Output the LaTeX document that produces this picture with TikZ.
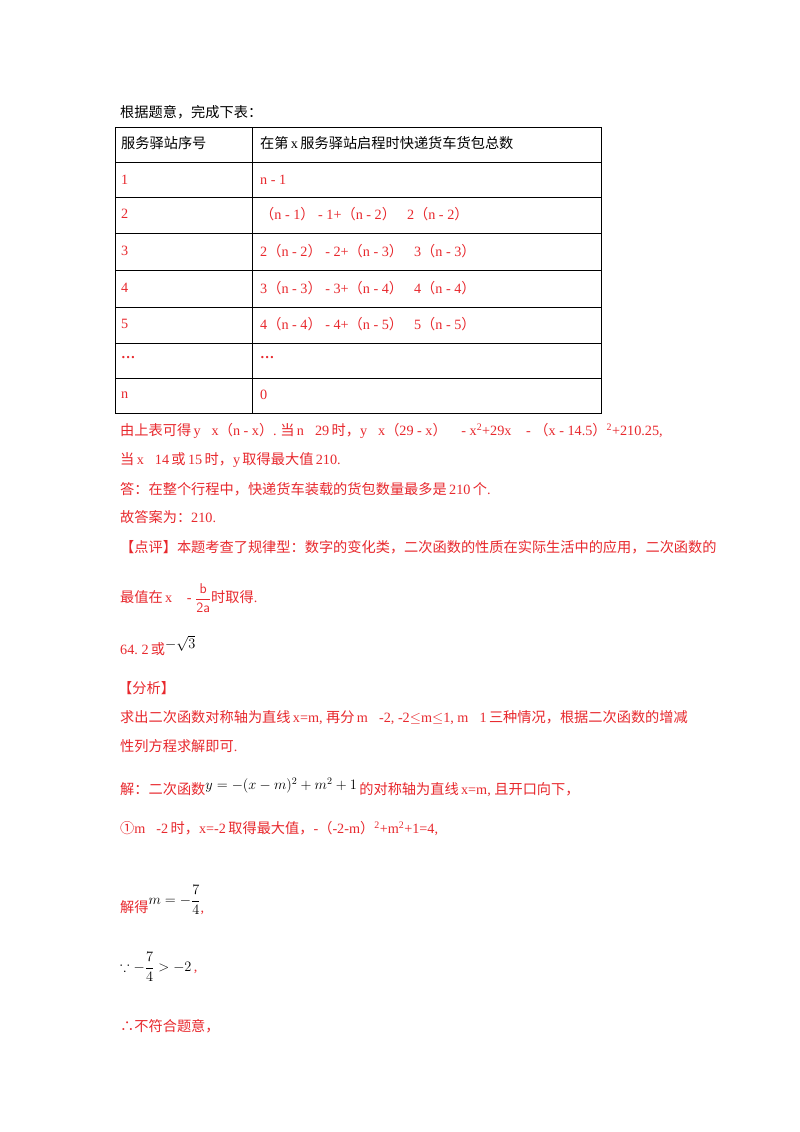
\documentclass[tikz,border=0pt]{standalone}
\usepackage{amsmath,amssymb}
\usepackage{fontspec}
\setmainfont{Liberation Serif}
\newfontfamily\cjk{Noto Sans CJK SC}
\newcommand{\zh}[1]{{\cjk #1}}
\definecolor{ansred}{RGB}{232,40,45}
\begin{document}
\begin{tikzpicture}[x=1pt,y=-1pt,
  txt/.style={anchor=west,inner sep=0pt,font=\fontsize{14.2}{16}\selectfont,text=ansred},
  blk/.style={txt,text=black}]
\useasboundingbox[fill=white] (0,0) rectangle (800,1132);
\node[blk] (t0) at (120,112) {\zh{根据题意，完成下表：}};
% table
\draw[line width=1pt] (115,127) rectangle (601,413);
\foreach \y in {162,197,233,270,307,343,378} \draw[line width=0.8pt] (115,\y) -- (601,\y);
\draw[line width=0.8pt] (252,127) -- (252,413);
\node[blk] (h1) at (121,143) {\zh{服务驿站序号}};
\node[blk] (h2) at (260,143) {\zh{在第}\,x\,\zh{服务驿站启程时快递货车货包总数}};
\node[txt] (a1) at (121,180) {1};
\node[txt] (b1) at (260,180) {n - 1};
\node[txt] (a2) at (121,214) {2};
\node[txt] (b2) at (260,214) {\zh{（}n - 1\zh{）} - 1+\zh{（}n - 2\zh{）}＝2\zh{（}n - 2\zh{）}};
\node[txt] (a3) at (121,251) {3};
\node[txt] (b3) at (260,251) {2\zh{（}n - 2\zh{）} - 2+\zh{（}n - 3\zh{）}＝3\zh{（}n - 3\zh{）}};
\node[txt] (a4) at (121,288) {4};
\node[txt] (b4) at (260,288) {3\zh{（}n - 3\zh{）} - 3+\zh{（}n - 4\zh{）}＝4\zh{（}n - 4\zh{）}};
\node[txt] (a5) at (121,324) {5};
\node[txt] (b5) at (260,324) {4\zh{（}n - 4\zh{）} - 4+\zh{（}n - 5\zh{）}＝5\zh{（}n - 5\zh{）}};
\node[txt] (a6) at (121,358) {\textbf{…}};
\node[txt] (b6) at (260,358) {\textbf{…}};
\node[txt] (a7) at (121,395) {n};
\node[txt] (b7) at (260,395) {0};
% text
\node[txt] (l1) at (120,431) {\zh{由上表可得}\,y＝x\zh{（}n - x\zh{）}.\ \zh{当}\,n＝29\,\zh{时，}y＝x\zh{（}29 - x\zh{）}＝ - x\textsuperscript{2}+29x＝ - \zh{（}x - 14.5\zh{）}\textsuperscript{2}+210.25,};
\node[txt] (l2) at (120,460) {\zh{当}\,x＝14\,\zh{或}\,15\,\zh{时，}y\,\zh{取得最大值}\,210.};
\node[txt] (l3) at (120,489) {\zh{答：在整个行程中，快递货车装载的货包数量最多是}\,210\,\zh{个}.};
\node[txt] (l4) at (120,517) {\zh{故答案为：}210.};
\node[txt] (l5) at (120,547) {\zh{【点评】本题考查了规律型：数字的变化类，二次函数的性质在实际生活中的应用，二次函数的}};
\node[txt] (l6) at (120,598) {\zh{最值在}\,x＝ - $\dfrac{\mathsf{b}}{\mathsf{2a}}$\zh{时取得}.};
\node[txt] (l7) at (120,646) {64.\ 2\,\zh{或}\raisebox{6pt}{\textcolor{black}{$-\sqrt{3}$}}};
\node[txt] (l8) at (118,688) {\zh{【分析】}};
\node[txt] (l9) at (120,718) {\zh{求出二次函数对称轴为直线}\,x=m,\ \zh{再分}\,m＜-2,\ -2$\leq$m$\leq$1,\ m＞1\,\zh{三种情况，根据二次函数的增减}};
\node[txt] (l10) at (120,746) {\zh{性列方程求解即可}.};
\node[txt] (l11) at (120,787) {\zh{解：二次函数}\raisebox{5pt}{\textcolor{black}{$y=-(x-m)^2+m^2+1$}}\,\zh{的对称轴为直线}\,x=m,\ \zh{且开口向下，}};
\node[txt] (l12) at (120,829) {\zh{①}m＜-2\,\zh{时，}x=-2\,\zh{取得最大值，}-\zh{（}-2-m\zh{）}\textsuperscript{2}+m\textsuperscript{2}+1=4,};
\node[txt] (l13) at (120,900) {\zh{解得}\raisebox{8pt}{\textcolor{black}{$m=-\dfrac{7}{4}$}},};
\node[txt] (l14) at (120,967) {\textcolor{black}{$\because -\dfrac{7}{4}>-2$}\,,};
\node[txt] (l15) at (120,1026) {\zh{∴不符合题意，}};
\end{tikzpicture}
\end{document}
